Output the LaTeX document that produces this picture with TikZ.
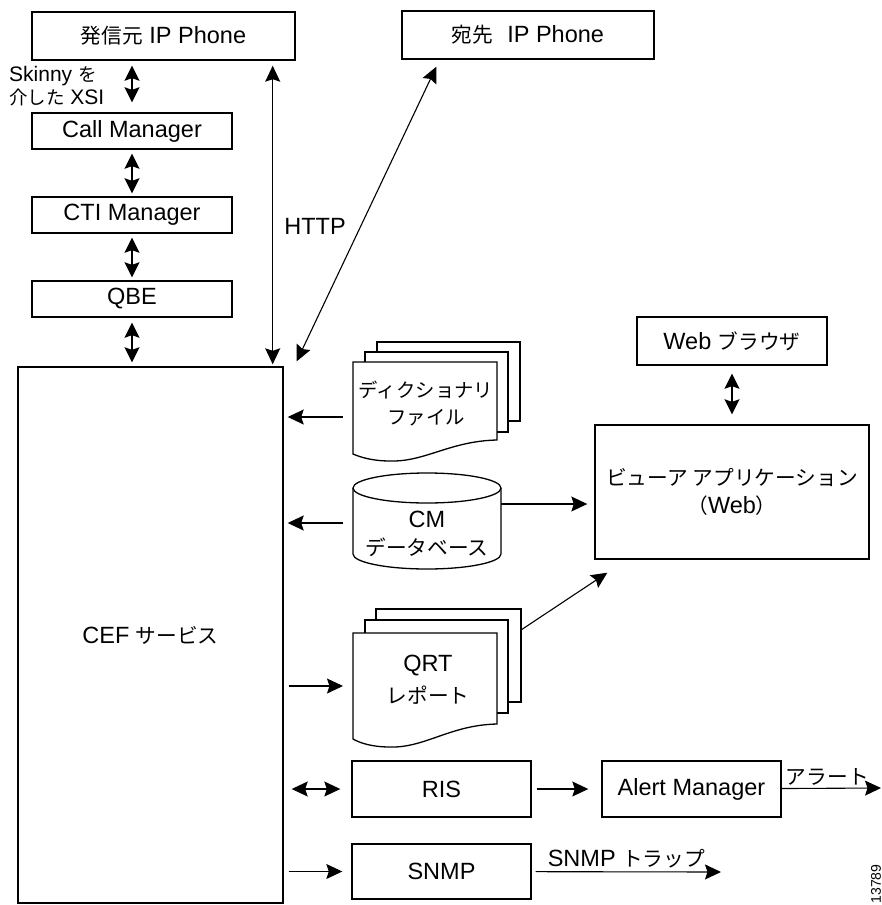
\documentclass[tikz,border=0pt]{standalone}
\usepackage{fontspec}
\setmainfont{Liberation Sans}
\newfontfamily\jpfont[Scale=0.88]{Noto Sans CJK JP}
\newcommand{\jtext}[1]{{\jpfont #1}}
\usetikzlibrary{arrows.meta, calc}

\begin{document}
\begin{tikzpicture}[x=1pt, y=-1pt, font=\fontsize{23.5}{28}\selectfont,
  box/.style={draw, line width=1.4pt, inner sep=0pt, align=center},
  page/.style={draw, line width=1.3pt, fill=white},
  arr/.style={-{Stealth[length=16pt, width=15pt, inset=2.5pt]}, line width=1.1pt},
  tarr/.style={{Stealth[length=16pt, width=15pt, inset=2.5pt]}-{Stealth[length=16pt, width=15pt, inset=2.5pt]}, line width=1.1pt},
  darr/.style={{Stealth[length=15pt, width=15pt, inset=2.5pt]}-{Stealth[length=15pt, width=15pt, inset=2.5pt]}, line width=1.6pt}
]
  \useasboundingbox (0,0) rectangle (882,905);

  % Phones
  \node[box, minimum width=263pt, minimum height=48pt] (src) at (163.5,36) {\jtext{発信元} IP Phone};
  \node[box, minimum width=252pt, minimum height=48pt] (dst) at (528,35) {\jtext{宛先}\hspace{14pt}IP Phone};

  % Call path
  \node[box, minimum width=200pt, minimum height=36pt] (cm) at (132,131) {Call Manager};
  \node[box, minimum width=200pt, minimum height=36pt] (cti) at (132,215) {CTI Manager};
  \node[box, minimum width=200pt, minimum height=36pt] (qbe) at (132,299) {QBE};
  \node[box, minimum width=265pt, minimum height=536pt] (cef) at (150.5,635) {CEF \jtext{サービス}};

  % Viewer side
  \node[box, minimum width=190pt, minimum height=48pt] (web) at (732,341) {Web \jtext{ブラウザ}};
  \node[box, minimum width=274pt, minimum height=134pt] (viewer) at (732,492) {\jtext{ビューア アプリケーション}\\\jtext{（}Web\jtext{）}};

  % Outputs
  \node[box, minimum width=179pt, minimum height=56pt] (ris) at (441.5,789) {RIS};
  \node[box, minimum width=179pt, minimum height=56pt] (alert) at (691.5,789) {Alert Manager};
  \node[box, minimum width=179pt, minimum height=55pt] (snmp) at (441.5,871.5) {SNMP};

  % Dictionary files
  \draw[page] (377,342) rectangle (520,421);
  \draw[page] (365,352) rectangle (508,432);
  \draw[page] (353,362) -- (497,362) -- (497,440) .. controls (450,441) and (425,462) .. (390,461)
    .. controls (372,461) and (360,457) .. (353,454) -- cycle;
  \node[align=center, font=\fontsize{22}{27}\selectfont] (dict) at (426,404) {\jtext{ディクショナリ}\\\jtext{ファイル}};

  % CM database
  \draw[page] (353,488) -- (353,554) arc[start angle=180, end angle=0, x radius=74, y radius=15] -- (501,488);
  \draw[page] (427,488) ellipse [x radius=74, y radius=15];
  \node[align=center] (cmdb) at (427,534) {CM\\\jtext{データベース}};

  % QRT reports
  \draw[page] (376,609) rectangle (521,702);
  \draw[page] (365,620) rectangle (508,713);
  \draw[page] (353,633) -- (497,633) -- (497,724) .. controls (450,725) and (425,748) .. (390,747)
    .. controls (372,747) and (360,743) .. (353,739) -- cycle;
  \node[align=center] (qrt) at (428,680) {QRT\\[4pt]\jtext{レポート}};

  % Labels
  \node[font=\fontsize{21}{23}\selectfont, align=left, anchor=west, inner sep=2pt] (skinny) at (7,86) {Skinny \jtext{を}\\\jtext{介した} XSI};
  \node (http) at (315,226) {HTTP};
  \node[rotate=90, font=\fontsize{14}{14}\selectfont] (figid) at (876,884) {13789};

  % Arrow ends
  \coordinate (httpx) at ([xshift=-11pt]cef.north east);
  \coordinate (dictL) at (343,417);
  \coordinate (dbL) at (343,523);
  \coordinate (dbR) at (501,504);
  \coordinate (qrtL) at (343,686);
  \coordinate (qrtR) at (521,630);
  \coordinate (alertout) at (881,788);
  \coordinate (snmpout) at (721,872);

  % Arrows
  \draw[darr, shorten <=5pt, shorten >=10pt] (src.south -| cm.north) -- (cm.north);
  \draw[darr, shorten <=4pt, shorten >=3pt] (cm) -- (cti);
  \draw[darr, shorten <=4pt, shorten >=3pt] (cti) -- (qbe);
  \draw[darr, shorten <=5pt, shorten >=4pt] (qbe.south) -- (qbe.south |- cef.north);
  \draw[tarr, shorten <=2pt, shorten >=5pt] (httpx) -- (httpx |- src.south);
  \draw[tarr] ($(cef.north east)+(13,-5)$) -- ($(dst.south west)+(35,7)$);
  \draw[arr, shorten >=4pt] (dictL) -- (dictL -| cef.east);
  \draw[arr, shorten >=4pt] (dbL) -- (dbL -| cef.east);
  \draw[arr, shorten >=7pt] (dbR) -- (dbR -| viewer.west);
  \draw[arr, shorten <=5pt] (qrtL -| cef.east) -- (qrtL);
  \draw[arr] (qrtR) -- ($(viewer.south west)+(13,13)$);
  \draw[darr, shorten <=8pt, shorten >=10pt] (web) -- (viewer);
  \draw[tarr, shorten <=8pt, shorten >=11pt] (ris.west -| cef.east) -- (ris.west);
  \draw[arr, shorten <=5pt, shorten >=13pt] (ris) -- (alert);
  \draw[arr] (alert) -- (alertout) node[midway, above, inner sep=2pt, xshift=-4pt] (alarm) {\jtext{アラート}};
  \draw[arr, shorten <=5pt, shorten >=9pt] (snmp.west -| cef.east) -- (snmp.west);
  \draw[arr, shorten <=4pt] (snmp) -- (snmpout) node[midway, above, inner sep=3pt] (trap) {SNMP \jtext{トラップ}};
\end{tikzpicture}
\end{document}
